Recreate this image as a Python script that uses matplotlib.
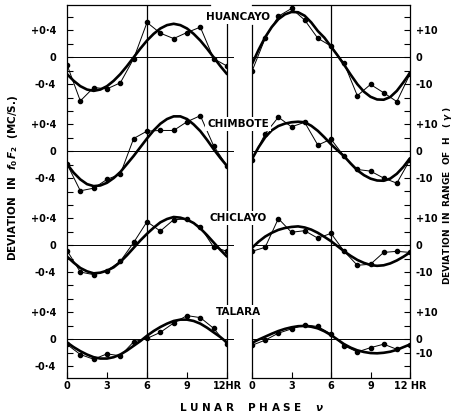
import numpy as np
import matplotlib.pyplot as plt

# lunar hours 0..12 (observed points) and half-hour steps for the fitted curves
hours = np.arange(0, 13)
hours_fit = np.arange(0, 12.5, 0.5)

stations = ["HUANCAYO", "CHIMBOTE", "CHICLAYO", "TALARA"]

# ---- deviation in f0F2 (Mc/s) ----
hua_f0f2 = [-0.11, -0.65, -0.45, -0.47, -0.38, -0.02, 0.52, 0.36, 0.28, 0.37, 0.45, -0.02, -0.13]
chm_f0f2 = [-0.19, -0.59, -0.55, -0.42, -0.34, 0.19, 0.30, 0.31, 0.31, 0.44, 0.53, 0.08, -0.22]
chc_f0f2 = [-0.08, -0.40, -0.44, -0.38, -0.24, 0.04, 0.35, 0.21, 0.38, 0.39, 0.27, -0.03, -0.09]
tal_f0f2 = [-0.08, -0.23, -0.30, -0.22, -0.25, -0.04, 0.01, 0.10, 0.24, 0.35, 0.32, 0.16, -0.08]

hua_f0f2_fit = [-0.25, -0.35, -0.43, -0.48, -0.50, -0.48, -0.43, -0.35, -0.25, -0.13, 0.00, 0.13, 0.25,
                0.35, 0.43, 0.48, 0.50, 0.48, 0.43, 0.35, 0.25, 0.13, 0.00, -0.13, -0.25]
chm_f0f2_fit = [-0.19, -0.32, -0.42, -0.49, -0.52, -0.51, -0.47, -0.40, -0.31, -0.19, -0.07, 0.06, 0.19,
                0.31, 0.41, 0.48, 0.52, 0.52, 0.48, 0.40, 0.30, 0.17, 0.03, -0.10, -0.22]
chc_f0f2_fit = [-0.17, -0.26, -0.34, -0.39, -0.42, -0.41, -0.38, -0.33, -0.25, -0.15, -0.04, 0.07, 0.17,
                0.26, 0.34, 0.39, 0.42, 0.41, 0.38, 0.33, 0.25, 0.15, 0.04, -0.07, -0.17]
tal_f0f2_fit = [-0.05, -0.12, -0.18, -0.23, -0.27, -0.29, -0.29, -0.27, -0.23, -0.17, -0.10, -0.03, 0.05,
                0.12, 0.18, 0.23, 0.27, 0.29, 0.29, 0.27, 0.23, 0.17, 0.10, 0.03, -0.05]

# ---- deviation in range of H (gamma) ----
hua_h = [-5.2, 7.1, 15.3, 18.2, 13.9, 7.1, 4.2, -2.3, -14.3, -10.1, -13.2, -16.5, -6.2]
chm_h = [-3.2, 6.5, 12.7, 9.1, 10.8, 2.3, 4.5, -1.9, -6.8, -7.4, -10.0, -11.9, -3.2]
chc_h = [-2.3, -0.8, 9.9, 4.8, 5.4, 2.6, 4.4, -2.3, -7.5, -7.1, -2.7, -2.3, -2.7]
tal_h = [-2.3, -0.4, 2.2, 3.8, 5.3, 4.7, 1.9, -2.5, -4.8, -3.2, -1.9, -3.8, -2.3]

hua_h_fit = [-2.5, 2.8, 7.5, 11.3, 14.2, 16.0, 16.9, 16.8, 15.5, 13.0, 9.8, 7.3, 4.0,
             0.7, -2.8, -6.5, -10.0, -12.8, -14.7, -15.7, -15.8, -14.8, -12.5, -9.3, -5.8]
chm_h_fit = [-2.9, 1.5, 5.2, 7.8, 9.4, 10.3, 10.8, 11.0, 10.8, 9.5, 7.6, 5.2, 2.6,
             0.3, -1.9, -4.6, -7.1, -8.9, -10.2, -10.9, -11.0, -10.2, -8.4, -5.8, -2.6]
chc_h_fit = [-1.0, 1.3, 3.2, 4.6, 5.7, 6.4, 6.8, 7.0, 6.6, 5.8, 4.6, 3.1, 1.5,
             -0.4, -2.3, -4.0, -5.5, -6.6, -7.4, -7.7, -7.5, -6.8, -5.7, -4.3, -2.7]
tal_h_fit = [-1.4, -0.2, 0.9, 2.0, 3.0, 3.8, 4.4, 4.8, 4.9, 4.6, 4.0, 2.9, 1.5,
             -0.2, -1.9, -3.2, -4.2, -4.8, -5.2, -5.3, -5.1, -4.7, -4.0, -3.0, -2.0]

f0f2_obs = [hua_f0f2, chm_f0f2, chc_f0f2, tal_f0f2]
f0f2_fit = [hua_f0f2_fit, chm_f0f2_fit, chc_f0f2_fit, tal_f0f2_fit]
h_obs = [hua_h, chm_h, chc_h, tal_h]
h_fit = [hua_h_fit, chm_h_fit, chc_h_fit, tal_h_fit]

# vertical stacking of the four stations (0.4 Mc/s on the left == 10 gamma on the right)
f0f2_off = [4.2, 2.8, 1.4, 0.0]
h_off = [105, 70, 35, 0]

plt.rcParams["font.family"] = "DejaVu Sans"
plt.rcParams["font.weight"] = "bold"

W, H = 457, 417
fig = plt.figure(figsize=(W / 100, H / 100), dpi=100)
axL = fig.add_axes([67 / W, 1 - 378 / H, 160 / W, 373 / H])
axR = fig.add_axes([252 / W, 1 - 378 / H, 158 / W, 373 / H])

axL.set_ylim(-0.58, 4.98)
axR.set_ylim(-0.58 / 0.04, 4.98 / 0.04)

for ax, obs, fit, offs in [(axL, f0f2_obs, f0f2_fit, f0f2_off), (axR, h_obs, h_fit, h_off)]:
    ax.set_xlim(0, 12)
    ax.axvline(6, color="k", lw=0.9)
    for o, fit_vals, obs_vals in zip(offs, fit, obs):
        ax.plot(hours, np.array(obs_vals) + o, "-o", color="k", lw=0.7, ms=3.0, zorder=3)
        ax.plot(hours_fit, np.array(fit_vals) + o, "-", color="k", lw=1.9, zorder=4,
                solid_capstyle="round", solid_joinstyle="round")
    for sp in ax.spines.values():
        sp.set_linewidth(0.9)
    ax.set_xticks([0, 3, 6, 9, 12])
    ax.tick_params(axis="both", direction="in", length=4, width=0.8, labelsize=7)
    ax.tick_params(axis="x", pad=2)

# zero lines; the left ones run a little past the frame
for o in f0f2_off:
    axL.axhline(o, xmin=0, xmax=1.04, color="k", lw=0.7, clip_on=False)
for o in h_off:
    axR.axhline(o, color="k", lw=0.7)

# left y ticks every 0.2, labelled +0.4 / 0 / -0.4 around each station
yt = np.round(np.arange(-2, 25) * 0.2, 2)
ylab = []
for p in yt:
    s = ""
    for o in f0f2_off:
        if abs(p - (o + 0.4)) < 1e-6:
            s = "+0·4"
        elif abs(p - o) < 1e-6:
            s = "0"
        elif abs(p - (o - 0.4)) < 1e-6:
            s = "-0·4"
    ylab.append(s)
axL.set_yticks(yt)
axL.set_yticklabels(ylab)
axL.tick_params(axis="y", pad=8)
axL.set_xticklabels(["0", "3", "6", "9", "12HR"])

# right y ticks every 5 gamma
yr = np.arange(-10, 121, 5)
rlab = []
for p in yr:
    s = ""
    for o in h_off:
        if p == o + 10:
            s = "+10"
        elif p == o:
            s = "0"
        elif p == o - 10 and o > 0:
            s = "-10"
    # Talara's "-10" sits squeezed just under its zero in the original
    if p == -5:
        s = "-10"
    rlab.append(s)
axR.yaxis.tick_right()
axR.set_yticks(yr)
axR.set_yticklabels(rlab)
for lbl in axR.get_yticklabels():
    lbl.set_horizontalalignment("left")
axR.tick_params(axis="y", pad=4)
axR.set_xticklabels(["0", "3", "6", "9", "12 HR"])

# the frame is broken at the top-right where the station name sits
axL.spines["top"].set_bounds(0, 10.7)
axL.spines["right"].set_bounds(-0.58, 4.76)
axR.spines["left"].set_bounds(-14.5, 117)

# station names in the gap between the two panels
name_y = [17, 124, 218, 312]
for name, y in zip(stations, name_y):
    fig.text(238 / W, 1 - y / H, name, ha="center", va="center", fontsize=7.5,
             fontweight="bold", bbox=dict(facecolor="white", edgecolor="none", pad=1.5),
             zorder=10)

fig.text(13 / W, 1 - 178 / H, "DEVIATION  IN  $f_0\\,F_2$  (MC/S.)", rotation=90,
         ha="center", va="center", fontsize=7.5, fontweight="bold")
fig.text(448 / W, 1 - 195 / H, "DEVIATION  IN  RANGE  OF  H   ( $\\gamma$ )", rotation=90,
         ha="center", va="center", fontsize=6.5, fontweight="bold")
fig.text(252 / W, 1 - 407 / H, "L U N A R    P H A S E    $\\nu$", ha="center", va="center",
         fontsize=7.5, fontweight="bold")

fig.savefig("out.png", dpi=100)
